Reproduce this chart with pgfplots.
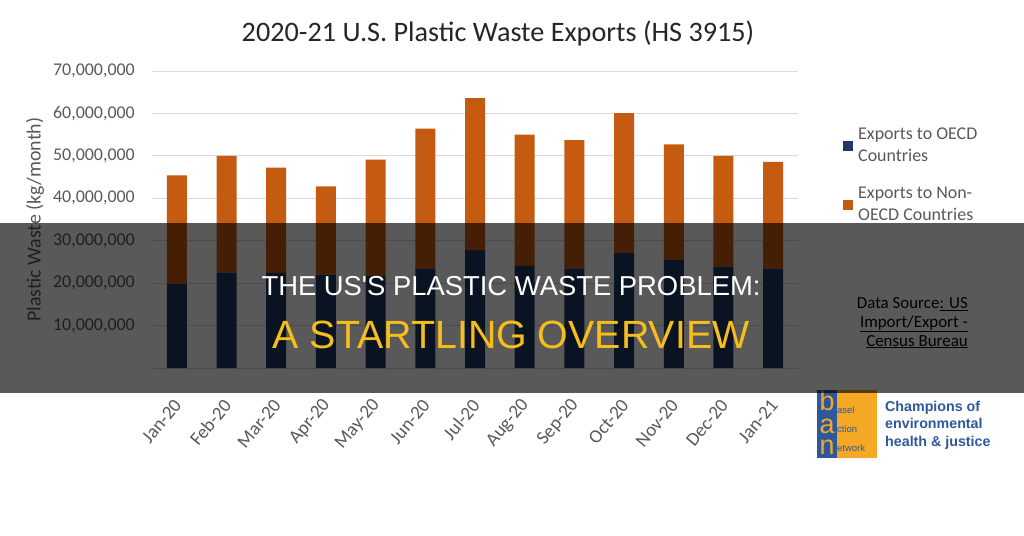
\documentclass[border=0pt]{standalone}
\usepackage{fontspec}
\setmainfont{Carlito}
\newfontfamily\arialfont{Liberation Sans}
\usepackage{pgfplots}
\pgfplotsset{compat=1.18}
\definecolor{oecd}{RGB}{31,56,100}
\definecolor{nonoecd}{RGB}{197,90,17}
\definecolor{txtgray}{RGB}{89,89,89}
\definecolor{gridgray}{RGB}{217,217,217}
\definecolor{banblue}{RGB}{46,88,156}
\definecolor{banorange}{RGB}{244,168,38}
\definecolor{headyellow}{RGB}{246,190,28}

\begin{document}
\begin{tikzpicture}
\path[use as bounding box] (0,0) rectangle (1024bp,-536bp);
\begin{axis}[
    at={(152bp,-368bp)}, anchor=south west,
    scale only axis,
    width=646bp, height=297bp,
    ybar stacked,
    bar width=20bp,
    xmin=-0.5, xmax=12.5,
    ymin=0, ymax=70000000,
    ytick={10000000,20000000,...,70000000},
    xtick={0,...,12},
    xticklabels={Jan-20,Feb-20,Mar-20,Apr-20,May-20,Jun-20,Jul-20,Aug-20,Sep-20,Oct-20,Nov-20,Dec-20,Jan-21},
    scaled y ticks=false,
    yticklabel={\pgfmathprintnumber[fixed,1000 sep={,}]{\tick}},
    /pgf/number format/assume math mode=true,
    yticklabel style={font=\fontsize{18}{20}\selectfont, text=txtgray, inner sep=0pt, xshift=-17bp},
    xticklabel style={font=\fontsize{19}{20}\selectfont, text=txtgray, inner sep=0pt, xshift=1bp, yshift=-34bp, rotate=50, anchor=east},
    major tick length=0pt,
    axis line style={draw=none},
    ymajorgrids,
    grid style={gridgray, line width=1bp},
    ylabel={Plastic Waste (kg/month)},
    ylabel style={font=\fontsize{20}{22}\selectfont, text=txtgray, at={(axis description cs:-0.181,0.5)}, anchor=center},
    legend style={draw=none, fill=none, at={(axis description cs:1.0697,0.815)}, anchor=north west,
        font=\fontsize{18}{22}\selectfont, text=txtgray, row sep=20bp, column sep=3bp, inner sep=0pt,
        nodes={align=left, inner sep=2bp}},
    legend cell align=left,
    legend image code/.code={\fill[#1] (0bp,-5bp) rectangle (10bp,5bp);},
]
\addplot[fill=oecd, draw=none] coordinates {
 (0,19900000) (1,22500000) (2,22400000) (3,22000000) (4,21700000) (5,23400000) (6,27800000)
 (7,24100000) (8,23400000) (9,27200000) (10,25500000) (11,23900000) (12,23400000)};
\addplot[fill=nonoecd, draw=none] coordinates {
 (0,25500000) (1,27500000) (2,24800000) (3,20800000) (4,27400000) (5,33000000) (6,35800000)
 (7,30900000) (8,30300000) (9,32900000) (10,27200000) (11,26100000) (12,25200000)};
\legend{Exports to OECD\\Countries, Exports to Non-\\OECD Countries}
\draw[gridgray, line width=1bp] (axis cs:-0.5,0) -- (axis cs:12.5,0);
\end{axis}
\node[font=\fontsize{28.3}{30}\selectfont, text=black!85] at (498bp,-33bp) {2020-21 U.S. Plastic Waste Exports (HS 3915)};
% BAN logo
\fill[banorange] (817bp,-390bp) rectangle (877bp,-458bp);
\fill[banblue] (817bp,-390bp) rectangle (837bp,-458bp);
\node[text=banorange, font=\arialfont\fontsize{27}{27}\selectfont, inner sep=0pt] at (827bp,-401bp) {b};
\node[text=banorange, font=\arialfont\fontsize{27}{27}\selectfont, inner sep=0pt] at (827bp,-426bp) {a};
\node[text=banorange, font=\arialfont\fontsize{27}{27}\selectfont, inner sep=0pt] at (827bp,-447bp) {n};
\node[text=banblue, font=\arialfont\fontsize{9.5}{9.5}\selectfont, anchor=west, inner sep=0pt] at (837bp,-410bp) {asel};
\node[text=banblue, font=\arialfont\fontsize{9.5}{9.5}\selectfont, anchor=west, inner sep=0pt] at (837bp,-429bp) {ction};
\node[text=banblue, font=\arialfont\fontsize{9.5}{9.5}\selectfont, anchor=west, inner sep=0pt] at (837bp,-448bp) {etwork};
\node[text=banblue, font=\arialfont\bfseries\fontsize{14.3}{17.5}\selectfont, anchor=north west, align=left, inner sep=0pt] at (885bp,-401bp) {Champions of\\environmental\\health \& justice};
% overlay band
\fill[black, opacity=0.65] (0bp,-223bp) rectangle (1024bp,-393bp);
\node[text=black, font=\fontsize{17}{19}\selectfont, anchor=north east, align=right, inner sep=0pt] at (968bp,-297bp)
 {Data Source\underline{: US}\\\underline{Import/Export -}\\\underline{Census Bureau}};
\node[text=white, font=\arialfont\fontsize{27.5}{29}\selectfont] at (511bp,-286bp) {THE US'S PLASTIC WASTE PROBLEM:};
\node[text=headyellow, font=\arialfont\fontsize{39.5}{42}\selectfont] at (511bp,-335bp) {A STARTLING OVERVIEW};
\end{tikzpicture}
\end{document}
